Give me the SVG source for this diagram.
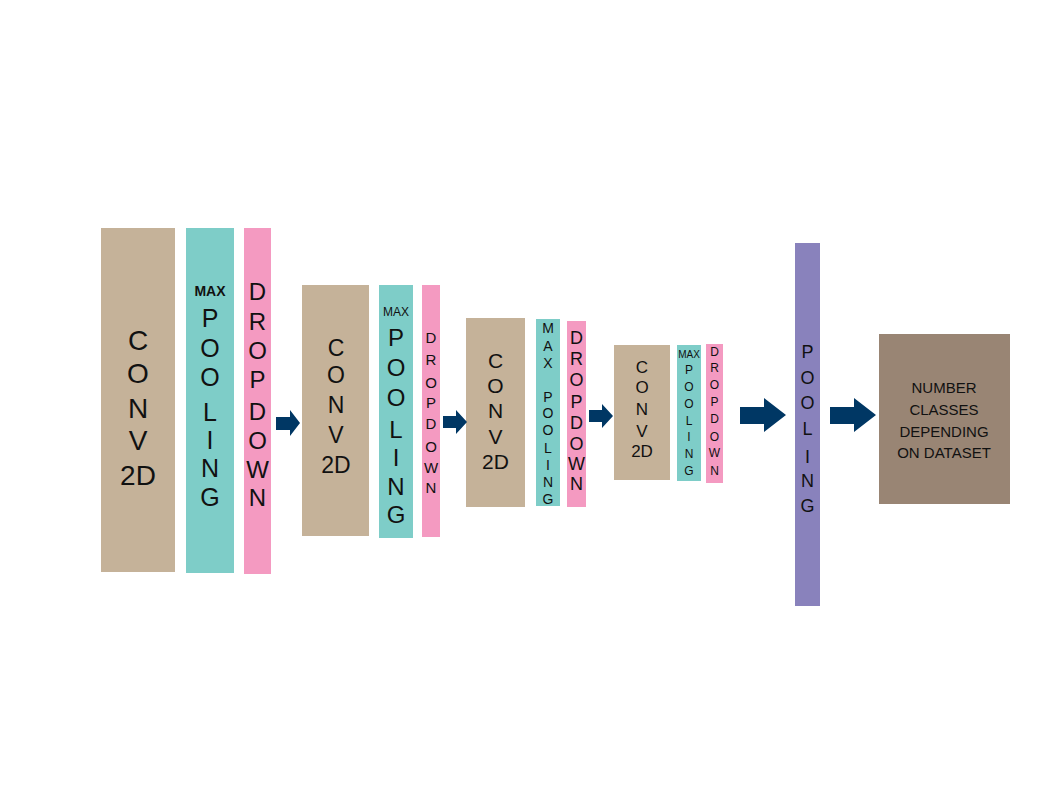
<svg xmlns="http://www.w3.org/2000/svg" width="1048" height="800" viewBox="0 0 1048 800">
<style>
text{font-family:"Liberation Sans",Arial,sans-serif;fill:#111;text-anchor:middle}
.conv{fill:#c5b299}.pool{fill:#7ecdc8}.drop{fill:#f49ac1}.gpool{fill:#8982bc}.out{fill:#998574}
.arr{fill:#003764}
</style>
<rect width="1048" height="800" fill="#fff"/>
<g id="conv1"><rect class="conv" x="101" y="228" width="74" height="344"/>
<text font-size="28"><tspan x="138" y="350">C</tspan><tspan x="138" y="383">O</tspan><tspan x="138" y="418">N</tspan><tspan x="138" y="450">V</tspan><tspan x="138" y="485">2D</tspan></text></g>
<g id="pool1"><rect class="pool" x="186" y="228" width="48" height="345"/>
<text font-size="14" font-weight="bold" x="210" y="296">MAX</text>
<text font-size="25"><tspan x="210" y="327">P</tspan><tspan x="210" y="357">O</tspan><tspan x="210" y="386">O</tspan><tspan x="210" y="421">L</tspan><tspan x="210" y="449">I</tspan><tspan x="210" y="477">N</tspan><tspan x="210" y="506">G</tspan></text></g>
<g id="drop1"><rect class="drop" x="244" y="228" width="27" height="346"/>
<text font-size="24"><tspan x="257.5" y="300">D</tspan><tspan x="257.5" y="330">R</tspan><tspan x="257.5" y="359">O</tspan><tspan x="257.5" y="388">P</tspan><tspan x="257.5" y="420">D</tspan><tspan x="257.5" y="449">O</tspan><tspan x="257.5" y="478">W</tspan><tspan x="257.5" y="506">N</tspan></text></g>
<g id="conv2"><rect class="conv" x="302" y="285" width="67" height="251"/>
<text font-size="23"><tspan x="336" y="356">C</tspan><tspan x="336" y="383">O</tspan><tspan x="336" y="413">N</tspan><tspan x="336" y="443">V</tspan><tspan x="336" y="473">2D</tspan></text></g>
<g id="pool2"><rect class="pool" x="379" y="285" width="34" height="253"/>
<text font-size="12" x="396" y="316">MAX</text>
<text font-size="24"><tspan x="396" y="346">P</tspan><tspan x="396" y="376">O</tspan><tspan x="396" y="406">O</tspan><tspan x="396" y="438">L</tspan><tspan x="396" y="466">I</tspan><tspan x="396" y="495">N</tspan><tspan x="396" y="523">G</tspan></text></g>
<g id="drop2"><rect class="drop" x="422" y="285" width="18" height="252"/>
<text font-size="15"><tspan x="431" y="343">D</tspan><tspan x="431" y="365">R</tspan><tspan x="431" y="388">O</tspan><tspan x="431" y="408">P</tspan><tspan x="431" y="429">D</tspan><tspan x="431" y="452">O</tspan><tspan x="431" y="473">W</tspan><tspan x="431" y="493">N</tspan></text></g>
<g id="conv3"><rect class="conv" x="466" y="318" width="59" height="189"/>
<text font-size="21"><tspan x="495.5" y="368">C</tspan><tspan x="495.5" y="393">O</tspan><tspan x="495.5" y="418">N</tspan><tspan x="495.5" y="444">V</tspan><tspan x="495.5" y="469">2D</tspan></text></g>
<g id="pool3"><rect class="pool" x="536" y="319" width="24" height="187"/>
<text font-size="14"><tspan x="548" y="333">M</tspan><tspan x="548" y="351">A</tspan><tspan x="548" y="368">X</tspan><tspan x="548" y="402">P</tspan><tspan x="548" y="418">O</tspan><tspan x="548" y="435">O</tspan><tspan x="548" y="453">L</tspan><tspan x="548" y="470">I</tspan><tspan x="548" y="487">N</tspan><tspan x="548" y="504">G</tspan></text></g>
<g id="drop3"><rect class="drop" x="567" y="321" width="19" height="186"/>
<text font-size="18"><tspan x="576.5" y="344">D</tspan><tspan x="576.5" y="365">R</tspan><tspan x="576.5" y="386">O</tspan><tspan x="576.5" y="408">P</tspan><tspan x="576.5" y="429">D</tspan><tspan x="576.5" y="450">O</tspan><tspan x="576.5" y="470">W</tspan><tspan x="576.5" y="490">N</tspan></text></g>
<g id="conv4"><rect class="conv" x="614" y="345" width="56" height="135"/>
<text font-size="17"><tspan x="642" y="373">C</tspan><tspan x="642" y="393">O</tspan><tspan x="642" y="415">N</tspan><tspan x="642" y="437">V</tspan><tspan x="642" y="457">2D</tspan></text></g>
<g id="pool4"><rect class="pool" x="677" y="345" width="24" height="136"/>
<text font-size="10" x="689" y="358">MAX</text>
<text font-size="12"><tspan x="689" y="374">P</tspan><tspan x="689" y="391">O</tspan><tspan x="689" y="408">O</tspan><tspan x="689" y="425">L</tspan><tspan x="689" y="441">I</tspan><tspan x="689" y="458">N</tspan><tspan x="689" y="475">G</tspan></text></g>
<g id="drop4"><rect class="drop" x="706" y="344" width="17" height="139"/>
<text font-size="12"><tspan x="714.5" y="356">D</tspan><tspan x="714.5" y="372">R</tspan><tspan x="714.5" y="389">O</tspan><tspan x="714.5" y="406">P</tspan><tspan x="714.5" y="423">D</tspan><tspan x="714.5" y="441">O</tspan><tspan x="714.5" y="457">W</tspan><tspan x="714.5" y="475">N</tspan></text></g>
<g id="pooling"><rect class="gpool" x="795" y="243" width="25" height="363"/>
<text font-size="18"><tspan x="807.5" y="358">P</tspan><tspan x="807.5" y="384">O</tspan><tspan x="807.5" y="409">O</tspan><tspan x="807.5" y="435">L</tspan><tspan x="807.5" y="463">I</tspan><tspan x="807.5" y="487">N</tspan><tspan x="807.5" y="512">G</tspan></text></g>
<g id="output"><rect class="out" x="879" y="334" width="131" height="170"/>
<text font-size="15"><tspan x="944" y="393">NUMBER</tspan><tspan x="944" y="415">CLASSES</tspan><tspan x="944" y="437">DEPENDING</tspan><tspan x="944" y="458">ON DATASET</tspan></text></g>
<g id="connectors">
<path class="arr" d="M276,417 H290 V410 L300,423 L290,436 V430 H276 Z"/>
<path class="arr" d="M443,416 H456 V410 L467,422 L456,434 V428 H443 Z"/>
<path class="arr" d="M589,410 H602 V404 L613,416 L602,428 V422 H589 Z"/>
<path class="arr" d="M740,407 H764 V398 L786,415 L764,432 V424 H740 Z"/>
<path class="arr" d="M830,407 H854 V398 L876,415 L854,432 V424 H830 Z"/>
</g>
</svg>
